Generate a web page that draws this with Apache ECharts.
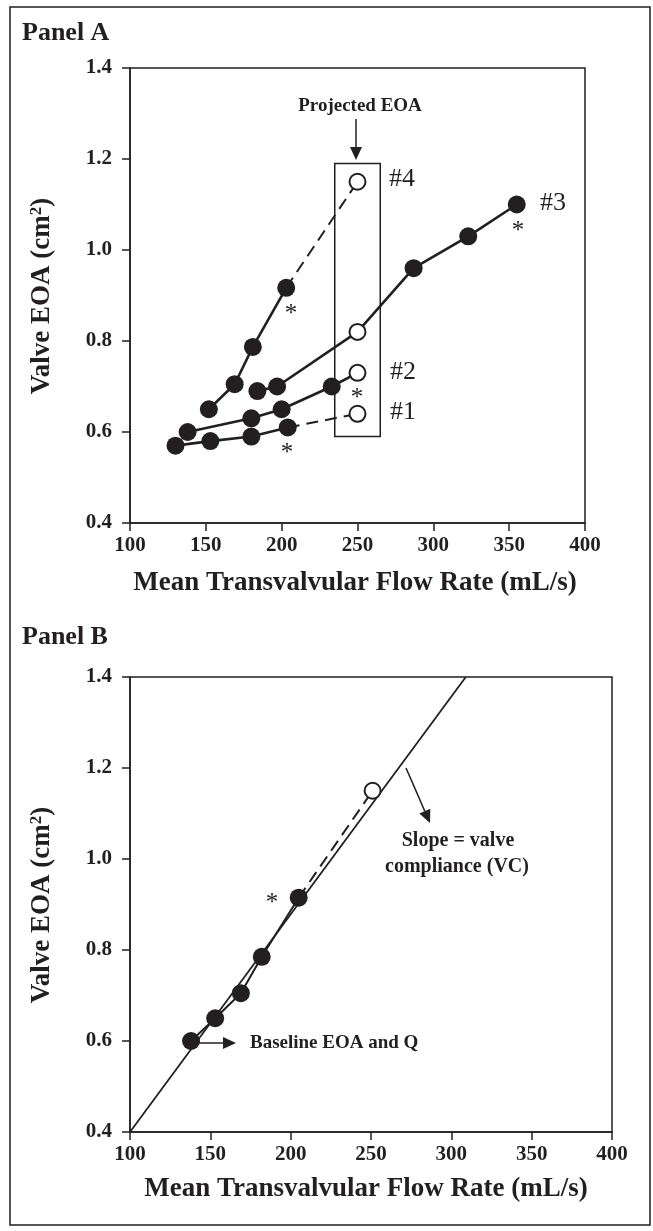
<!DOCTYPE html>
<html>
<head>
<meta charset="utf-8">
<script src="https://cdn.jsdelivr.net/npm/echarts@6/dist/echarts.min.js"></script>
<style>
  html, body { margin: 0; padding: 0; background: #fff; }
  #chart { width: 653px; height: 1231px; }
</style>
</head>
<body>
<div id="chart"></div>
<script>
// tick labels
const xTickLabels = ["100", "150", "200", "250", "300", "350", "400"];
const yTickLabels = ["0.4", "0.6", "0.8", "1.0", "1.2", "1.4"];

// Panel A: measured points per valve (flow mL/s, EOA cm2) and projected EOA at 250 mL/s
const v1Flow = [130, 153, 180, 204];
const v1Eoa = [0.57, 0.58, 0.59, 0.61];
const v1Proj = [250, 0.64];

const v2Flow = [138, 180, 200, 233];
const v2Eoa = [0.60, 0.63, 0.65, 0.70];
const v2Proj = [250, 0.73];

const v3Flow = [184, 197, 287, 323, 355];
const v3Eoa = [0.69, 0.70, 0.96, 1.03, 1.10];
const v3Proj = [250, 0.82];

const v4Flow = [152, 169, 181, 203];
const v4Eoa = [0.65, 0.705, 0.787, 0.917];
const v4Proj = [250, 1.15];

// projected EOA box (flow range, EOA range)
const projBox = [[235, 0.59], [265, 1.19]];

// Panel B: valve #4 with its fitted line
const bFlow = [138, 153, 169, 182, 205];
const bEoa = [0.60, 0.65, 0.705, 0.785, 0.915];
const bProj = [251, 1.15];
const fitLine = [[100, 0.40], [309, 1.40]];

const C = "#231f20";
const F = "'Liberation Serif', 'Times New Roman', serif";

const zip = (a, b) => a.map((v, i) => [v, b[i]]);

function xAx(gi) {
  return {
    type: "value", gridIndex: gi, min: 100, max: 400, interval: 50,
    axisLine: { show: true, onZero: false, lineStyle: { color: C, width: 1.5 } },
    axisTick: { show: true, length: 8, lineStyle: { color: C, width: 1.5 } },
    axisLabel: {
      margin: 12, color: C, fontFamily: F, fontWeight: "bold", fontSize: 21,
      formatter: v => xTickLabels[Math.round((v - 100) / 50)]
    },
    splitLine: { show: false }
  };
}
function yAx(gi) {
  return {
    type: "value", gridIndex: gi, min: 0.4, max: 1.4, interval: 0.2,
    axisLine: { show: true, onZero: false, lineStyle: { color: C, width: 1.5 } },
    axisTick: { show: true, length: 8, lineStyle: { color: C, width: 1.5 } },
    axisLabel: {
      margin: 18, color: C, fontFamily: F, fontWeight: "bold", fontSize: 21,
      formatter: v => yTickLabels[Math.round((v - 0.4) / 0.2)]
    },
    splitLine: { show: false }
  };
}

function solid(gi, data, w) {
  return {
    type: "line", xAxisIndex: gi, yAxisIndex: gi, data: data, symbol: "none",
    lineStyle: { color: C, width: w || 2.6 }, z: 2, silent: true
  };
}
function dashed(gi, data) {
  return {
    type: "line", xAxisIndex: gi, yAxisIndex: gi, data: data, symbol: "none",
    lineStyle: { color: C, width: 2, type: [12, 7] }, z: 2, silent: true
  };
}
function filled(gi, data) {
  return {
    type: "scatter", xAxisIndex: gi, yAxisIndex: gi, data: data, symbolSize: 18,
    itemStyle: { color: C, opacity: 1 }, z: 4, silent: true
  };
}
function open(gi, data) {
  return {
    type: "scatter", xAxisIndex: gi, yAxisIndex: gi, data: data, symbolSize: 16,
    itemStyle: { color: "#fff", borderColor: C, borderWidth: 2, opacity: 1 }, z: 5, silent: true
  };
}

const v1 = zip(v1Flow, v1Eoa), v2 = zip(v2Flow, v2Eoa), v3 = zip(v3Flow, v3Eoa), v4 = zip(v4Flow, v4Eoa);
const b = zip(bFlow, bEoa);

const txt = (x, y, text, size, opts) => Object.assign({
  type: "text", x: x, y: y, silent: true,
  style: Object.assign({ text: text, fill: C, font: "bold " + size + "px " + F, align: "left", verticalAlign: "middle" }, (opts && opts.style) || {})
}, (opts && opts.el) || {});

function arrow(x1, y1, x2, y2) {
  const a = Math.atan2(y2 - y1, x2 - x1), L = 13, W = 6;
  const bx = x2 - L * Math.cos(a), by = y2 - L * Math.sin(a);
  return [
    { type: "line", silent: true, shape: { x1: x1, y1: y1, x2: bx, y2: by }, style: { stroke: C, lineWidth: 1.5 } },
    { type: "polygon", silent: true, shape: { points: [[x2, y2], [bx - W * Math.sin(a), by + W * Math.cos(a)], [bx + W * Math.sin(a), by - W * Math.cos(a)]] }, style: { fill: C } }
  ];
}

const yTitle = "Valve EOA (cm{sup|2})";
const richSup = { sup: { fontSize: 17, fontWeight: "bold", fontFamily: F, verticalAlign: "top", fill: C } };
const star = (x, y) => ({ type: "text", x: x, y: y + 6, silent: true, style: { text: "*", fill: C, font: "25px " + F, align: "center", verticalAlign: "middle" } });

const chart = echarts.init(document.getElementById("chart"), null, { renderer: "canvas" });
chart.setOption({
  animation: false,
  backgroundColor: "#fff",
  grid: [
    { left: 130, top: 68, width: 455, height: 455, show: true, borderColor: C, borderWidth: 1.5, backgroundColor: "transparent" },
    { left: 130, top: 677, width: 482, height: 455, show: true, borderColor: C, borderWidth: 1.5, backgroundColor: "transparent" }
  ],
  xAxis: [xAx(0), xAx(1)],
  yAxis: [yAx(0), yAx(1)],
  series: [
    // Panel A
    solid(0, v1), dashed(0, [v1[v1.length - 1], v1Proj]),
    solid(0, v2.concat([v2Proj])),
    solid(0, v3.slice(0, 2).concat([v3Proj], v3.slice(2))),
    solid(0, v4), dashed(0, [v4[v4.length - 1], v4Proj]),
    filled(0, v1.concat(v2, v3, v4)),
    open(0, [v1Proj, v2Proj, v3Proj, v4Proj]),
    {
      type: "line", xAxisIndex: 0, yAxisIndex: 0, data: [], silent: true,
      markArea: {
        silent: true,
        itemStyle: { color: "rgba(0,0,0,0)", borderColor: C, borderWidth: 1.5 },
        data: [[{ coord: projBox[0] }, { coord: projBox[1] }]]
      }
    },
    // Panel B
    solid(1, fitLine, 1.8),
    solid(1, b, 2),
    dashed(1, [b[b.length - 1], bProj]),
    filled(1, b),
    open(1, [bProj])
  ],
  graphic: [
    { type: "rect", silent: true, shape: { x: 10, y: 7, width: 640, height: 1218 }, style: { fill: "none", stroke: C, lineWidth: 1.5 } },
    txt(22, 33, "Panel A", 26),
    txt(22, 637, "Panel B", 26),
    {
      type: "text", x: 42, y: 296, rotation: Math.PI / 2, silent: true,
      style: { text: yTitle, fill: C, font: "bold 27px " + F, align: "center", verticalAlign: "middle", rich: richSup }
    },
    {
      type: "text", x: 42, y: 905, rotation: Math.PI / 2, silent: true,
      style: { text: yTitle, fill: C, font: "bold 27px " + F, align: "center", verticalAlign: "middle", rich: richSup }
    },
    txt(355, 583, "Mean Transvalvular Flow Rate (mL/s)", 27, { style: { align: "center" } }),
    txt(366, 1189, "Mean Transvalvular Flow Rate (mL/s)", 27, { style: { align: "center" } }),
    txt(360, 106, "Projected EOA", 19, { style: { align: "center" } }),
    ...arrow(356, 119, 356, 160),
    txt(389, 179, "#4", 26, { style: { font: "26px " + F } }),
    txt(540, 203, "#3", 26, { style: { font: "26px " + F } }),
    txt(390, 372, "#2", 26, { style: { font: "26px " + F } }),
    txt(390, 412, "#1", 26, { style: { font: "26px " + F } }),
    star(291, 308), star(357, 392), star(518, 225), star(287, 447),
    // Panel B notes
    ...arrow(406, 768, 430, 823),
    txt(458, 841, "Slope = valve", 20, { style: { align: "center" } }),
    txt(457, 867, "compliance (VC)", 20, { style: { align: "center" } }),
    ...arrow(198, 1043, 236, 1043),
    txt(250, 1043, "Baseline EOA and Q", 19),
    star(272, 897)
  ]
});
window.addEventListener("resize", () => chart.resize());
</script>
</body>
</html>
